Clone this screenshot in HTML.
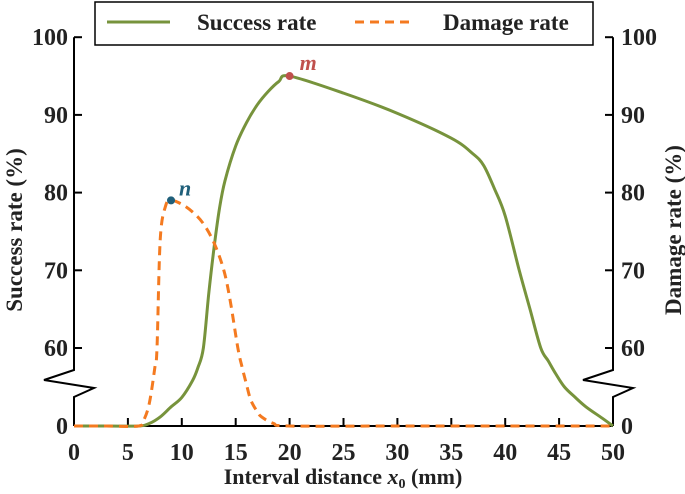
<!DOCTYPE html>
<html><head><meta charset="utf-8"><style>
body{margin:0;background:#fff}
svg text{font-family:"Liberation Serif",serif;font-weight:bold;fill:#222}
</style></head><body>
<svg width="685" height="489">
<g id="axes"></g><g id="series"></g><g id="legend"></g>
</svg>
<script>
const xTicks=[0,5,10,15,20,25,30,35,40,45,50];
const yTicks=[0,60,70,80,90,100];
const successX=[0,3,6,7,8,9,10,11,11.5,12,12.5,13,13.5,14,15,16,17,18,19,20,25,30,35,37,38,39,40,41.3,42.3,43.3,44,44.7,45.5,46.5,47.5,49,50];
const successY=[0,0,0,2,7,14.7,22,35,45,60,67,73,78,81.5,86,89,91.3,93,94.3,95,92.8,90.2,87,85,83.5,80.5,77,70,65,60,50,40,30,22,14.7,6,0];
const damageX=[0,3,6,6.5,7,7.5,7.7,8,8.5,9,10,11,12,13,13.9,14.5,15.2,15.6,16,16.4,17,17.4,18.5,20,30,40,50];
const damageY=[0,0,0,5,18,45,60,74,78.3,79,78.5,77.5,76,73.5,70,66,60,45,32,20,11,7,2,0,0,0,0];
const X0=74,X1=613,Y0=426,Y60=348,PER=7.77;
const NS="http://www.w3.org/2000/svg";
function sx(v){return X0+(X1-X0)*v/50}
function sy(v){return v>=60?Y60-(v-60)*PER:Y0-(Y0-Y60)*v/60}
function mk(t,a,p){const e=document.createElementNS(NS,t);for(const k in a)e.setAttribute(k,a[k]);p.appendChild(e);return e}
const ax=document.getElementById('axes');
function axis(x,dir){
  const zt=370,zb=397;
  const p=mk('path',{d:`M${x},${sy(100)}L${x},${zt}L${x-30},${zt+10}L${x+20},${zt+18}L${x},${zb}L${x},${Y0}`,fill:'none',stroke:'#000','stroke-width':2},ax);
  
  
  yTicks.forEach(v=>{
    const y=sy(v);
    const t=mk('line',{x1:x,x2:x+dir*8,y1:y,y2:y,stroke:'#000','stroke-width':2},ax);
    
    
    const l=mk('text',{x:dir>0?x-6:x+8,y:y+8,'font-size':24,'text-anchor':dir>0?'end':'start'},ax);
    l.textContent=v;
    
    
  });
}
axis(X0,1);axis(X1,-1);
const xa=mk('line',{x1:X0,x2:X1,y1:Y0,y2:Y0,stroke:'#000','stroke-width':2},ax);


xTicks.forEach(v=>{
  const x=sx(v);
  const t=mk('line',{x1:x,x2:x,y1:Y0,y2:Y0-8,stroke:'#000','stroke-width':2},ax);
  
  
  const l=mk('text',{x:x,y:Y0+34,'font-size':24,'text-anchor':'middle'},ax);
  l.textContent=v;
  
  
});
const xt=mk('text',{x:343,y:484,'font-size':22,'text-anchor':'middle'},ax);
xt.innerHTML='Interval distance <tspan font-style="italic">x</tspan><tspan font-size="14" dy="4">0</tspan><tspan dy="-4"> (mm)</tspan>';


const yl=mk('text',{transform:'translate(22,230) rotate(-90)','font-size':23,'text-anchor':'middle'},ax);
yl.textContent='Success rate (%)';


const yr=mk('text',{transform:'translate(681,230) rotate(-90)','font-size':23,'text-anchor':'middle'},ax);
yr.textContent='Damage rate (%)';


function path(xs,ys){
  const P=xs.map((x,i)=>[sx(x),sy(ys[i])]);
  let d=`M${P[0][0]},${P[0][1]}`;
  for(let i=0;i<P.length-1;i++){
    const p0=P[Math.max(i-1,0)],p1=P[i],p2=P[i+1],p3=P[Math.min(i+2,P.length-1)];
    const c1=[p1[0]+(p2[0]-p0[0])/6,p1[1]+(p2[1]-p0[1])/6],c2=[p2[0]-(p3[0]-p1[0])/6,p2[1]-(p3[1]-p1[1])/6];
    d+=`C${c1[0]},${c1[1]} ${c2[0]},${c2[1]} ${p2[0]},${p2[1]}`;
  }
  return d;
}
const se=document.getElementById('series');
const sl=mk('path',{d:path(successX,successY),fill:'none',stroke:'#77933c','stroke-width':3},se);


const dl=mk('path',{d:path(damageX,damageY),fill:'none',stroke:'#f47a20','stroke-width':3,'stroke-dasharray':'9,6'},se);


const m=mk('circle',{cx:sx(20),cy:sy(95),r:4,fill:'#c0504d'},se);


const mt=mk('text',{x:sx(20)+10,y:sy(95)-6,'font-size':22,'font-style':'italic',style:'fill:#c0504d'},se);
mt.textContent='m';


const n=mk('circle',{cx:sx(9),cy:sy(79),r:4,fill:'#1f5f7a'},se);


const nt=mk('text',{x:sx(9)+8,y:sy(79)-5,'font-size':22,'font-style':'italic',style:'fill:#1f5f7a'},se);
nt.textContent='n';


const lg=document.getElementById('legend');
const box=mk('rect',{x:95,y:2,width:498,height:43,fill:'#fff',stroke:'#000','stroke-width':1.5},lg);


const l1=mk('line',{x1:107,x2:170,y1:22,y2:22,stroke:'#77933c','stroke-width':3},lg);


const t1=mk('text',{x:197,y:30,'font-size':23},lg);t1.textContent='Success rate';


const l2=mk('line',{x1:355,x2:415,y1:22,y2:22,stroke:'#f47a20','stroke-width':3,'stroke-dasharray':'9,6'},lg);


const t2=mk('text',{x:443,y:30,'font-size':23},lg);t2.textContent='Damage rate';


</script>
</body></html>
